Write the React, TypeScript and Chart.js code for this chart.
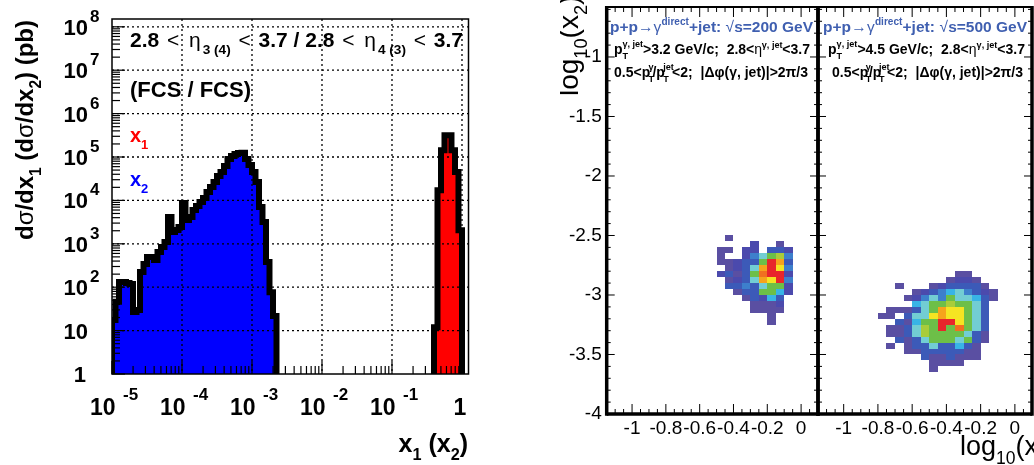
import React, { useEffect, useRef } from 'react';
import { Chart, registerables } from 'chart.js';

Chart.register(...registerables);

const FONT = "'Liberation Sans', Arial, Helvetica, sans-serif";

// ---------------- left panel: dσ/dx histograms (log10 x bins of 1/20 decade) ----------------
const LOG_X_START = -5;
const BINS_PER_DECADE = 20;
const X2_FIRST_BIN = 0;
const X2_VALUES = [
  17.5, 46, 132, 132, 125, 118, 27, 30, 224, 343, 497, 497, 424, 647, 844, 1100,
  4150, 1870, 2080, 2440, 8710, 3530, 4150, 6010, 7430, 9190, 11400, 15600, 20400,
  26500, 36500, 45100, 62100, 89900, 105000, 117000, 124000, 126000, 89900, 65400,
  45100, 26500, 7050, 3180, 381, 77, 21.7,
];
const X1_FIRST_BIN = 92;
const X1_VALUES = [12, 17100, 143000, 316000, 316000, 143000, 45100, 2050];
const X_DECADES = [-5, -4, -3, -2, -1, 0];
const Y_DECADES = [0, 1, 2, 3, 4, 5, 6, 7, 8];
const X_LOG_MAX = 0.093;
const Y_LOG_MAX = 8.18;

// ---------------- right panels: log10(x2) vs log10(x1) maps ----------------
const MAP_X_RANGE = [-1.15, 0.1];
const MAP_Y_RANGE = [-4, -0.58];
const MAP_X_LABELS = [-1, -0.8, -0.6, -0.4, -0.2, 0];
const MAP_Y_LABELS = [-1, -1.5, -2, -2.5, -3, -3.5, -4];
const CELL = 0.05;
const MAP200_X0 = -0.5;
const MAP200_YTOP = -2.5;
const MAP200_ROWS = [
  [0, 1, 0, 0, 0, 0, 0, 0, 0],
  [0, 0, 0, 0, 2, 0, 0, 1, 0],
  [1, 1, 0, 2, 2, 0, 3, 3, 2],
  [1, 0, 0, 2, 4, 6, 7, 8, 4],
  [1, 1, 2, 3, 3, 7, 12, 10, 3],
  [0, 1, 2, 3, 6, 10, 12, 9, 4],
  [2, 3, 1, 3, 7, 11, 12, 12, 2],
  [0, 1, 2, 3, 6, 10, 9, 12, 4],
  [0, 3, 3, 4, 3, 6, 7, 7, 2],
  [0, 0, 1, 3, 3, 7, 7, 5, 2],
  [0, 0, 0, 1, 3, 2, 5, 3, 0],
  [0, 0, 0, 0, 1, 1, 1, 2, 0],
  [0, 0, 0, 0, 1, 1, 1, 1, 0],
  [0, 0, 0, 0, 0, 0, 1, 0, 0],
  [0, 0, 0, 0, 0, 0, 1, 0, 0],
];
const MAP500_X0 = -0.8;
const MAP500_YTOP = -2.8;
const MAP500_ROWS = [
  [0, 0, 0, 0, 0, 0, 0, 0, 0, 1, 1, 0, 0, 0],
  [0, 0, 0, 0, 0, 0, 0, 0, 1, 2, 2, 1, 0, 0],
  [0, 0, 1, 0, 0, 0, 1, 2, 3, 3, 3, 3, 1, 0],
  [0, 0, 0, 0, 1, 2, 3, 4, 5, 6, 4, 3, 2, 1],
  [0, 0, 0, 1, 2, 4, 6, 4, 7, 6, 6, 5, 3, 1],
  [0, 0, 0, 0, 5, 6, 7, 7, 8, 7, 7, 6, 3, 0],
  [0, 1, 1, 1, 3, 6, 7, 10, 9, 9, 7, 6, 3, 0],
  [1, 1, 0, 3, 6, 6, 9, 10, 9, 9, 7, 6, 3, 0],
  [0, 0, 3, 1, 5, 7, 7, 12, 12, 9, 7, 6, 3, 0],
  [0, 1, 1, 3, 6, 8, 7, 12, 7, 11, 7, 6, 3, 0],
  [0, 1, 1, 3, 6, 8, 7, 7, 7, 7, 6, 3, 1, 0],
  [0, 0, 3, 1, 3, 6, 7, 7, 7, 6, 7, 3, 1, 0],
  [0, 1, 0, 1, 3, 3, 6, 3, 3, 5, 3, 1, 0, 0],
  [0, 0, 0, 1, 1, 3, 3, 3, 3, 3, 1, 1, 0, 0],
  [0, 0, 0, 0, 0, 3, 1, 1, 3, 1, 1, 1, 0, 0],
  [0, 0, 0, 0, 0, 0, 1, 1, 1, 1, 0, 0, 0, 0],
  [0, 0, 0, 0, 0, 0, 1, 0, 0, 0, 0, 0, 0, 0],
];
const PALETTE = [
  '#5a4fa2', '#4b4aad', '#3c5ab8', '#3d7fcc', '#38b4e6', '#72cdd3',
  '#6dbf48', '#a9cc3a', '#f5e422', '#f6a31c', '#f07020', '#e8262b',
];
const TITLE_BLUE = '#3f5fb0';

// ---------------- rich text helper ----------------
type Seg = { t?: string; sup?: boolean; sub?: boolean; bold?: boolean; color?: string; stack?: [string, string] };

function fontOf(size: number, bold: boolean) {
  return `${bold ? 'bold ' : ''}${size}px ${FONT}`;
}

function drawRich(ctx: CanvasRenderingContext2D, segs: Seg[], x: number, y: number, size: number,
  opt: { bold?: boolean; color?: string; align?: string; width?: number } = {}) {
  const bold = opt.bold ?? true;
  const items: any[] = [];
  let w = 0;
  for (const s of segs) {
    const b = s.bold ?? bold;
    const fs = s.stack || s.sup || s.sub ? size * 0.65 : size;
    ctx.font = fontOf(fs, b);
    let ww;
    if (s.stack) ww = Math.max(ctx.measureText(s.stack[0]).width, ctx.measureText(s.stack[1]).width);
    else ww = ctx.measureText(s.t || '').width;
    items.push({ s, fs, b, w: ww });
    w += ww;
  }
  const gap = opt.width != null && items.length > 1 ? (opt.width - w) / (items.length - 1) : 0;
  const total = opt.width ?? w;
  let cx = opt.align === 'right' ? x - total : opt.align === 'center' ? x - total / 2 : x;
  ctx.textAlign = 'left';
  ctx.textBaseline = 'alphabetic';
  for (const it of items) {
    const s = it.s as Seg;
    ctx.fillStyle = s.color ?? opt.color ?? '#000';
    ctx.font = fontOf(it.fs, it.b);
    if (s.stack) {
      ctx.fillText(s.stack[0], cx, y - size * 0.5);
      ctx.fillText(s.stack[1], cx, y + size * 0.38);
    } else {
      const dy = s.sup ? -size * 0.4 : s.sub ? size * 0.33 : 0;
      ctx.fillText(s.t || '', cx, y + dy);
    }
    cx += it.w + gap;
  }
}

function line(ctx: CanvasRenderingContext2D, x1: number, y1: number, x2: number, y2: number) {
  ctx.beginPath();
  ctx.moveTo(x1, y1);
  ctx.lineTo(x2, y2);
  ctx.stroke();
}

// ---------------- histogram helpers ----------------
function edge(i: number) {
  return 10 ** (LOG_X_START + i / BINS_PER_DECADE);
}
function histPoints(first: number, vals: number[]) {
  const floor = 0.1;
  const pts = [{ x: edge(first), y: floor }];
  vals.forEach((v, k) => pts.push({ x: edge(first + k), y: v }));
  const end = first + vals.length;
  pts.push({ x: edge(end), y: vals[vals.length - 1] });
  pts.push({ x: edge(end), y: floor });
  return pts;
}

const leftDeco = {
  id: 'leftDeco',
  afterDatasetsDraw(chart: any) {
    const { ctx, chartArea: a } = chart;
    const xs = chart.scales.x;
    const ys = chart.scales.y;
    ctx.save();
    ctx.strokeStyle = '#000';
    // dotted grid
    ctx.lineWidth = 1.3;
    ctx.setLineDash([2, 3]);
    X_DECADES.forEach((d) => {
      const px = xs.getPixelForValue(10 ** d);
      if (px > a.left + 2 && px < a.right - 2) line(ctx, px, a.top, px, a.bottom);
    });
    Y_DECADES.forEach((d) => {
      const py = ys.getPixelForValue(10 ** d);
      if (py > a.top + 2 && py < a.bottom - 2) line(ctx, a.left, py, a.right, py);
    });
    ctx.setLineDash([]);
    // ticks
    ctx.lineWidth = 1.2;
    for (let n = -5; n <= 0; n++) {
      for (let k = 1; k <= 9; k++) {
        const v = k * 10 ** n;
        if (v > xs.max) continue;
        const px = xs.getPixelForValue(v);
        line(ctx, px, a.bottom, px, a.bottom - (k === 1 ? 13 : 8));
      }
    }
    for (let n = 0; n <= 8; n++) {
      for (let k = 1; k <= 9; k++) {
        const v = k * 10 ** n;
        if (v > ys.max) continue;
        const py = ys.getPixelForValue(v);
        line(ctx, a.left, py, a.left + (k === 1 ? 13 : 8), py);
      }
    }
    // frame
    ctx.lineWidth = 1.5;
    ctx.strokeRect(a.left, a.top, a.right - a.left, a.bottom - a.top);

    // tick labels
    ctx.fillStyle = '#000';
    ctx.textBaseline = 'alphabetic';
    X_DECADES.forEach((d) => {
      const px = xs.getPixelForValue(10 ** d);
      if (d === 0) {
        ctx.font = fontOf(23, true);
        ctx.textAlign = 'center';
        ctx.fillText('1', px - 2, 415);
      } else {
        ctx.font = fontOf(23, true);
        ctx.textAlign = 'left';
        ctx.fillText('10', px - 22, 415);
        ctx.font = fontOf(17, true);
        ctx.fillText(String(d), px + 11, 400);
      }
    });
    Y_DECADES.forEach((d) => {
      const py = ys.getPixelForValue(10 ** d);
      ctx.font = fontOf(22, true);
      ctx.textAlign = 'right';
      if (d === 0) {
        ctx.fillText('1', 86, py + 8);
      } else {
        ctx.fillText('10', 88, py + 8);
        if (d >= 2) {
          ctx.font = fontOf(17, true);
          ctx.textAlign = 'left';
          ctx.fillText(String(d), 90, py - 5);
        }
      }
    });

    // axis titles
    drawRich(ctx, [{ t: 'x' }, { t: '1', sub: true }, { t: ' (x' }, { t: '2', sub: true }, { t: ')' }], 468, 452, 25, { align: 'right' });
    ctx.save();
    ctx.translate(33, 240);
    ctx.rotate(-Math.PI / 2);
    drawRich(ctx, [
      { t: 'd' }, { t: 'σ', bold: false }, { t: '/dx' }, { t: '1', sub: true },
      { t: ' (d' }, { t: 'σ', bold: false }, { t: '/dx' }, { t: '2', sub: true }, { t: ') (pb)' },
    ], 0, 0, 24, { width: 220 });
    ctx.restore();

    // in-plot texts
    drawRich(ctx, [
      { t: '2.8' }, { t: ' <', bold: false }, { t: ' ' }, { t: 'η', bold: false }, { t: '3 (4)', sub: true },
      { t: ' <', bold: false }, { t: ' 3.7 / 2.8' }, { t: ' <', bold: false }, { t: ' ' }, { t: 'η', bold: false },
      { t: '4 (3)', sub: true }, { t: ' <', bold: false }, { t: ' 3.7' },
    ], 130, 47, 21, { width: 333 });
    drawRich(ctx, [{ t: '(FCS / FCS)' }], 130, 97, 22);
    drawRich(ctx, [{ t: 'x' }, { t: '1', sub: true }], 130, 142, 20, { color: '#ff0000' });
    drawRich(ctx, [{ t: 'x' }, { t: '2', sub: true }], 130, 186, 20, { color: '#0000ff' });
    ctx.restore();
  },
};

function histDataset(label: string, first: number, vals: number[], color: string) {
  return {
    label,
    data: histPoints(first, vals),
    stepped: 'before',
    borderColor: '#000',
    borderWidth: 6,
    borderJoinStyle: 'miter',
    backgroundColor: color,
    fill: { value: 1 },
    pointRadius: 0,
    clip: 0,
  };
}

function leftConfig(): any {
  return {
    type: 'line',
    data: {
      datasets: [
        histDataset('x2', X2_FIRST_BIN, X2_VALUES, '#0000ff'),
        histDataset('x1', X1_FIRST_BIN, X1_VALUES, '#ff0000'),
      ],
    },
    options: {
      animation: false,
      responsive: false,
      events: [],
      layout: { padding: { left: 112, top: 19, right: 11.5, bottom: 91 } },
      scales: {
        x: { type: 'logarithmic', min: 10 ** LOG_X_START, max: 10 ** X_LOG_MAX, display: false },
        y: { type: 'logarithmic', min: 1, max: 10 ** Y_LOG_MAX, display: false },
      },
      plugins: { legend: { display: false }, tooltip: { enabled: false } },
    },
    plugins: [leftDeco],
  };
}

// ---------------- map panels ----------------
function mapCells(x0: number, ytop: number, rows: number[][]) {
  const cells: any[] = [];
  rows.forEach((row, r) => row.forEach((v, c) => {
    if (v > 0) cells.push({ x: x0 + c * CELL, y: ytop - (r + 1) * CELL, v });
  }));
  return cells;
}

type PanelCfg = {
  energy: string; pt: string; yAxis: boolean; xTitle: boolean;
  t1: [number, number]; t2: [number, number]; t3: [number, number];
};

function makePanelPlugin(cfg: PanelCfg) {
  return {
    id: 'panelDeco',
    beforeDatasetsDraw(chart: any) {
      const { ctx } = chart;
      const xs = chart.scales.x;
      const ys = chart.scales.y;
      ctx.save();
      for (const c of chart.data.datasets[0].data) {
        const x0 = Math.round(xs.getPixelForValue(c.x));
        const x1 = Math.round(xs.getPixelForValue(c.x + CELL));
        const y0 = Math.round(ys.getPixelForValue(c.y));
        const y1 = Math.round(ys.getPixelForValue(c.y + CELL));
        ctx.fillStyle = PALETTE[c.v - 1];
        ctx.fillRect(x0, y1, x1 - x0, y0 - y1);
      }
      ctx.restore();
    },
    afterDatasetsDraw(chart: any) {
      const { ctx, chartArea: a } = chart;
      const xs = chart.scales.x;
      const ys = chart.scales.y;
      const ox = chart.canvas.offsetLeft || 0;
      ctx.save();
      ctx.strokeStyle = '#000';
      ctx.lineWidth = 1;
      for (let k = -23; k <= 2; k++) {
        const px = xs.getPixelForValue(k * CELL);
        if (px <= a.left + 2 || px >= a.right - 2) continue;
        const len = k % 4 === 0 ? 10 : 5;
        line(ctx, px, a.bottom, px, a.bottom - len);
        line(ctx, px, a.top, px, a.top + len);
      }
      for (let k = -40; k <= -6; k++) {
        const py = ys.getPixelForValue(k / 10);
        if (py <= a.top + 2 || py >= a.bottom - 2) continue;
        const len = k % 5 === 0 ? 8 : 4;
        line(ctx, a.left, py, a.left + len, py);
        line(ctx, a.right, py, a.right - len, py);
      }
      // frame
      ctx.lineWidth = 2;
      line(ctx, a.left, a.top, a.right, a.top);
      ctx.lineWidth = 3.5;
      line(ctx, a.left, a.top - 1, a.left, a.bottom + 1.75);
      line(ctx, a.right, a.top - 1, a.right, a.bottom + 1.75);
      line(ctx, a.left, a.bottom, a.right, a.bottom);

      // tick labels
      ctx.fillStyle = '#000';
      ctx.font = fontOf(19, false);
      ctx.textAlign = 'center';
      ctx.textBaseline = 'alphabetic';
      MAP_X_LABELS.forEach((v) => ctx.fillText(String(v), xs.getPixelForValue(v), 434));
      if (cfg.yAxis) {
        ctx.textAlign = 'right';
        ctx.textBaseline = 'middle';
        MAP_Y_LABELS.forEach((v) => ctx.fillText(String(v), a.left - 5, ys.getPixelForValue(v)));
        ctx.save();
        ctx.translate(578 - ox, 96);
        ctx.rotate(-Math.PI / 2);
        drawRich(ctx, [{ t: 'log' }, { t: '10', sub: true }, { t: '(x' }, { t: '2', sub: true }, { t: ')' }], 0, 0, 28, { bold: false });
        ctx.restore();
      }
      if (cfg.xTitle) {
        drawRich(ctx, [{ t: 'log' }, { t: '10', sub: true }, { t: '(x' }, { t: '1', sub: true }, { t: ')' }], 960 - ox, 455, 27, { bold: false });
      }

      // legend texts
      drawRich(ctx, [
        { t: 'p+p' }, { t: '→', bold: false }, { t: 'γ', bold: false }, { t: 'direct', sup: true },
        { t: '+jet: ' }, { t: '√', bold: false }, { t: `s=${cfg.energy} GeV` },
      ], cfg.t1[0] - ox, 31.5, 15.5, { color: TITLE_BLUE, width: cfg.t1[1] });
      drawRich(ctx, [
        { t: 'p' }, { stack: ['γ, jet', 'T'] }, { t: `>${cfg.pt} GeV/c;  2.8<` }, { t: 'η', bold: false },
        { t: 'γ, jet', sup: true }, { t: '<3.7' },
      ], cfg.t2[0] - ox, 54, 14, { width: cfg.t2[1] });
      drawRich(ctx, [
        { t: '0.5<p' }, { stack: ['γ', 'T'] }, { t: '/p' }, { stack: ['jet', 'T'] },
        { t: '<2;  |Δφ(γ, jet)|>2π/3' },
      ], cfg.t3[0] - ox, 77, 14, { width: cfg.t3[1] });
      ctx.restore();
    },
  };
}

function panelConfig(cells: any[], cfg: PanelCfg, pad: any): any {
  return {
    type: 'scatter',
    data: { datasets: [{ data: cells, pointRadius: 0 }] },
    options: {
      animation: false,
      responsive: false,
      events: [],
      layout: { padding: pad },
      scales: {
        x: { type: 'linear', min: MAP_X_RANGE[0], max: MAP_X_RANGE[1], display: false },
        y: { type: 'linear', min: MAP_Y_RANGE[0], max: MAP_Y_RANGE[1], display: false },
      },
      plugins: { legend: { display: false }, tooltip: { enabled: false } },
    },
    plugins: [makePanelPlugin(cfg)],
  };
}

export default function App() {
  const leftRef = useRef<HTMLCanvasElement>(null);
  const aRef = useRef<HTMLCanvasElement>(null);
  const bRef = useRef<HTMLCanvasElement>(null);

  useEffect(() => {
    const charts = [
      new Chart(leftRef.current as HTMLCanvasElement, leftConfig()),
      new Chart(aRef.current as HTMLCanvasElement, panelConfig(
        mapCells(MAP200_X0, MAP200_YTOP, MAP200_ROWS),
        { energy: '200', pt: '3.2', yAxis: true, xTitle: false, t1: [610, 203], t2: [614, 196], t3: [614, 194] },
        { left: 46.7, right: 4, top: 7, bottom: 51 },
      )),
      new Chart(bRef.current as HTMLCanvasElement, panelConfig(
        mapCells(MAP500_X0, MAP500_YTOP, MAP500_ROWS),
        { energy: '500', pt: '4.5', yAxis: false, xTitle: true, t1: [823, 204], t2: [828, 197], t3: [832, 191] },
        { left: 4, right: 2, top: 7, bottom: 51 },
      )),
    ];
    return () => charts.forEach((c) => c.destroy());
  }, []);

  return (
    <div style={{ position: 'absolute', left: 0, top: 0, width: 1034, height: 465, background: '#fff', overflow: 'hidden' }}>
      <canvas ref={leftRef} width={480} height={465} style={{ position: 'absolute', left: 0, top: 0 }} />
      <canvas ref={aRef} width={262} height={465} style={{ position: 'absolute', left: 560, top: 0 }} />
      <canvas ref={bRef} width={220} height={465} style={{ position: 'absolute', left: 814, top: 0 }} />
    </div>
  );
}
